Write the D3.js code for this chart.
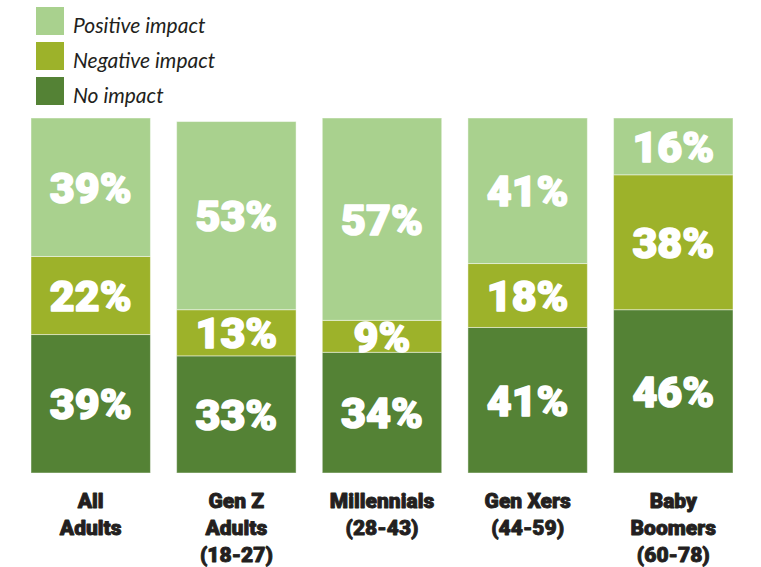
<!DOCTYPE html>
<html>
<head>
<meta charset="utf-8">
<script src="https://cdn.jsdelivr.net/npm/d3@7"></script>
<style>
  html, body { margin: 0; padding: 0; background: #ffffff; }
  svg { display: block; }
</style>
</head>
<body>
<svg id="chart" width="761" height="567"></svg>
<script>
// Survey groups (each label line is its own entry)
const categories = [
  ["All", "Adults"],
  ["Gen Z", "Adults", "(18-27)"],
  ["Millennials", "(28-43)"],
  ["Gen Xers", "(44-59)"],
  ["Baby", "Boomers", "(60-78)"]
];
const seriesNames = ["No impact", "Negative impact", "Positive impact"];
const noImpact       = [39, 33, 34, 41, 46];
const negativeImpact = [22, 13, 9, 18, 38];
const positiveImpact = [39, 53, 57, 41, 16];
const colors = ["#548235", "#9db22a", "#a9d18e"];
const legendOrder = ["Positive impact", "Negative impact", "No impact"];

const rows = categories.map((c, i) => ({
  key: c.join(" "),
  lines: c,
  "No impact": noImpact[i],
  "Negative impact": negativeImpact[i],
  "Positive impact": positiveImpact[i]
}));

const svg = d3.select("#chart");

const x = d3.scaleBand()
  .domain(rows.map(d => d.key))
  .range([31, 733])
  .paddingInner(0.18)
  .paddingOuter(0);

const y = d3.scaleLinear().domain([0, 100]).range([473, 118]);

const color = d3.scaleOrdinal().domain(seriesNames).range(colors);

const stack = d3.stack().keys(seriesNames);
const layers = stack(rows);

const layerG = svg.append("g")
  .selectAll("g")
  .data(layers)
  .join("g")
  .attr("fill", d => color(d.key));

layerG.selectAll("rect")
  .data(d => d)
  .join("rect")
  .attr("x", d => x(d.data.key))
  .attr("width", x.bandwidth())
  .attr("y", d => y(d[1]))
  .attr("height", d => y(d[0]) - y(d[1]))
  .attr("stroke", "rgba(255,255,255,0.45)")
  .attr("stroke-width", 1);

// Value labels centred in each segment
layerG.selectAll("text")
  .data(d => d.map(v => ({ v, key: d.key })))
  .join("text")
  .attr("x", d => x(d.v.data.key) + x.bandwidth() / 2)
  .attr("y", d => (y(d.v[0]) + y(d.v[1])) / 2)
  .attr("dy", "0.36em")
  .attr("text-anchor", "middle")
  .attr("fill", "#ffffff")
  .attr("stroke", "#ffffff")
  .attr("stroke-width", 1.6)
  .attr("stroke-linejoin", "round")
  .style("font-family", "Roboto, 'DejaVu Sans', sans-serif")
  .style("font-weight", 900)
  .style("font-size", "43px")
  .text(d => d.v.data[d.key] + "%");

// Category labels below the bars
const catG = svg.append("g")
  .selectAll("text")
  .data(rows)
  .join("text")
  .attr("x", d => x(d.key) + x.bandwidth() / 2)
  .attr("y", 508)
  .attr("text-anchor", "middle")
  .attr("fill", "#231f20")
  .attr("stroke", "#231f20")
  .attr("stroke-width", 0.9)
  .attr("stroke-linejoin", "round")
  .style("font-family", "Roboto, 'DejaVu Sans', sans-serif")
  .style("font-weight", 900)
  .style("font-size", "21px");

catG.selectAll("tspan")
  .data(d => d.lines.map((t, i) => ({ t, i, cx: x(d.key) + x.bandwidth() / 2 })))
  .join("tspan")
  .attr("x", d => d.cx)
  .attr("dy", d => d.i === 0 ? 0 : 27)
  .text(d => d.t);

// Legend
const legend = svg.append("g")
  .selectAll("g")
  .data(legendOrder)
  .join("g")
  .attr("transform", (d, i) => `translate(36, ${7 + i * 35})`);

legend.append("rect")
  .attr("width", 28)
  .attr("height", 28)
  .attr("fill", d => color(d));

legend.append("text")
  .attr("x", 37)
  .attr("y", 26)
  .attr("fill", "#231f20")
  .style("font-family", "Lato, 'Open Sans', sans-serif")
  .style("font-style", "italic")
  .style("font-size", "21px")
  .text(d => d);
</script>
</body>
</html>
